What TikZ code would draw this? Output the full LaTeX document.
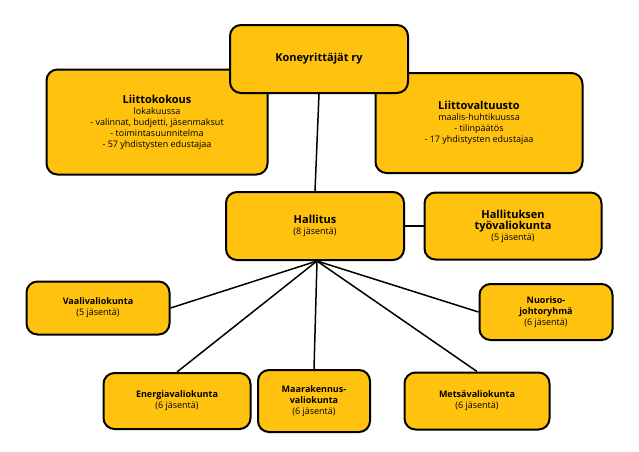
\documentclass[tikz,border=0pt]{standalone}
\usepackage{fontspec}
\setmainfont{Open Sans}
\definecolor{boxy}{HTML}{FFC20E}
\newcommand{\mytb}[1]{{\fontsize{11}{13}\selectfont\bfseries #1}}
\newcommand{\mysb}[1]{{\bfseries #1}}
\begin{document}
\begin{tikzpicture}[x=1pt,y=-1pt,
 box/.style={draw=black,line width=2pt,fill=boxy,rounded corners=11pt,align=center,inner sep=0pt,font=\fontsize{9}{11}\selectfont},
 ln/.style={line width=1.5pt}]
\useasboundingbox (0,0) rectangle (639,451);
\node[box,minimum width=221pt,minimum height=105pt] (lk) at (157,122) {\mytb{Liittokokous}\\lokakuussa\\- valinnat, budjetti, jäsenmaksut\\- toimintasuunnitelma\\- 57 yhdistysten edustajaa};
\node[box,minimum width=207pt,minimum height=100pt] (lv) at (479,123) {\mytb{Liittovaltuusto}\\maalis-huhtikuussa\\- tilinpäätös\\- 17 yhdistysten edustajaa};
\node[box,minimum width=178pt,minimum height=68pt] (h) at (315,226) {\mytb{Hallitus}\\(8 jäsentä)};
\node[box,minimum width=178pt,minimum height=68pt] (k) at (319,59) {\mytb{Koneyrittäjät ry}};
\draw[ln] (k.south) -- (h.north);
\node[box,minimum width=177pt,minimum height=67pt] (tv) at (513,226) {\mytb{Hallituksen}\\\mytb{työvaliokunta}\\(5 jäsentä)};
\draw[ln] (h) -- (tv);
\node[box,minimum width=143pt,minimum height=53pt] (va) at (98,308) {\mysb{Vaalivaliokunta}\\(5 jäsentä)};
\node[box,minimum width=133pt,minimum height=56pt] (nu) at (546,312) {\mysb{Nuoriso-}\\\mysb{johtoryhmä}\\(6 jäsentä)};
\node[box,minimum width=147pt,minimum height=56pt] (en) at (177,401) {\mysb{Energiavaliokunta}\\(6 jäsentä)};
\node[box,minimum width=112pt,minimum height=62pt] (ma) at (314,401) {\mysb{Maarakennus-}\\\mysb{valiokunta}\\(6 jäsentä)};
\node[box,minimum width=145pt,minimum height=57pt] (me) at (477,401) {\mysb{Metsävaliokunta}\\(6 jäsentä)};
\coordinate (hub) at (317,261);
\draw[ln] (hub) -- (va.east);
\draw[ln] (hub) -- (en.north);
\draw[ln] (hub) -- (ma.north);
\draw[ln] (hub) -- (me.north);
\draw[ln] (hub) -- (nu.west);
\end{tikzpicture}
\end{document}
